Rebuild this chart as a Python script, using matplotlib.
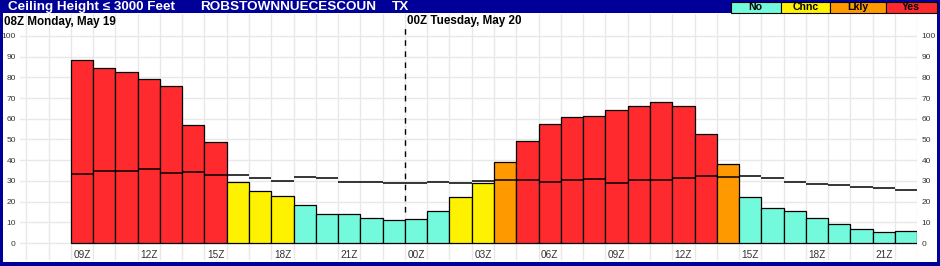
import matplotlib
matplotlib.use("Agg")
import matplotlib.pyplot as plt
from matplotlib.patches import Rectangle

plt.rcParams['font.family'] = ['Liberation Sans', 'DejaVu Sans']

# hourly forecast, 09Z May 19 .. 22Z May 20
hours = [9, 10, 11, 12, 13, 14, 15, 16, 17, 18, 19, 20, 21, 22, 23,
         0, 1, 2, 3, 4, 5, 6, 7, 8, 9, 10, 11, 12, 13, 14, 15, 16, 17, 18, 19, 20, 21, 22]
prob = [88.3, 84.4, 82.5, 79.1, 75.7, 56.9, 48.7, 29.4, 25.1, 22.7, 18.3, 14.0, 14.0, 12.0, 11.1,
        11.6, 15.4, 22.2, 28.9, 39.1, 49.2, 57.4, 60.8, 61.2, 64.1, 66.1, 68.0, 66.1, 52.6, 38.1,
        22.2, 16.9, 15.4, 12.0, 9.2, 6.7, 5.3, 5.8]
clim = [33.3, 34.7, 34.7, 35.7, 33.8, 34.2, 32.8, 32.8, 31.3, 29.9, 32.0, 31.3, 29.4, 29.4, 28.9,
        28.9, 29.4, 28.9, 29.9, 30.4, 30.4, 29.4, 30.4, 30.9, 28.9, 30.4, 30.4, 31.3, 32.3, 32.0,
        32.3, 31.3, 29.4, 28.4, 28.0, 27.0, 26.5, 25.5]
cats = ['Yes'] * 7 + ['Chnc'] * 3 + ['No'] * 7 + ['Chnc'] * 2 + ['Lkly'] + ['Yes'] * 9 + ['Lkly'] + ['No'] * 8

cat_names = ['No', 'Chnc', 'Lkly', 'Yes']
cat_colors = {'No': '#73fadc', 'Chnc': '#fff200', 'Lkly': '#ff9900', 'Yes': '#ff2a2d'}
navy = '#000099'

W, H = 940, 266
fig = plt.figure(figsize=(W / 100, H / 100), dpi=100, facecolor=navy)

def fx(px):
    return px / W

def fy(py):
    return 1 - py / H

# white panel inside the blue frame
fig.patches.append(Rectangle((fx(3), fy(262)), fx(934), 249 / H, transform=fig.transFigure,
                             facecolor='white', edgecolor='none', zorder=-10))

ax = fig.add_axes([fx(20), fy(260), fx(917.3 - 20), (260 - 14) / H])
ax.set_facecolor('none')
n = len(prob)
x = list(range(n))
ax.bar(x, prob, width=1, align='edge', color=[cat_colors[c] for c in cats],
       edgecolor='black', linewidth=0.9, zorder=3)
ax.hlines(clim, x, [i + 1 for i in x], colors='black', linewidth=1.1, zorder=4)

ax.set_xlim(-2.28, n)
ax.set_ylim(-8.2, 110.6)
ax.set_yticks(range(0, 101, 10))
ax.set_xticks(range(-2, n + 1))
ax.set_xticklabels([])
ax.grid(True, color='#e8e8e8', linewidth=1, zorder=0)
ax.tick_params(length=0, labelsize=6, labelcolor='#333333', labelright=True, pad=3)
for s in ax.spines.values():
    s.set_visible(False)

for i, h in enumerate(hours):
    if h % 3 == 0:
        ax.text(i + 0.5, -5.6, '%02dZ' % h, ha='center', va='center', fontsize=7.2, color='#333333')

# day boundary
ax.vlines(15, 15, 106, colors='black', linewidth=1, linestyles=(0, (4, 4)), zorder=5)
ax.text(15.1, 107.2, '00Z Tuesday, May 20', fontsize=8.4, fontweight='bold', va='center', ha='left')
fig.text(fx(4), fy(21.5), '08Z Monday, May 19', fontsize=8.4, fontweight='bold', va='center', ha='left')

# title bar
ty = fy(6.8)
fig.text(fx(8), ty, 'Ceiling Height ≤ 3000 Feet', color='white', fontsize=9.7, fontweight='bold', va='center')
fig.text(fx(200), ty, 'ROBSTOWNNUECESCOUN', color='white', fontsize=9.7, fontweight='bold', va='center')
fig.text(fx(392), ty, 'TX', color='white', fontsize=9.7, fontweight='bold', va='center')

edges = [730.5, 780.5, 830, 885.5, 936.5]
for k, name in enumerate(cat_names):
    x0, x1 = edges[k], edges[k + 1]
    fig.patches.append(Rectangle((fx(x0), fy(13)), fx(x1 - x0), 11 / H, transform=fig.transFigure,
                                 facecolor=cat_colors[name], edgecolor='black', linewidth=0.8, zorder=2))
    fig.text(fx((x0 + x1) / 2), fy(7.5), name, fontsize=7.6, fontweight='bold', ha='center', va='center', zorder=3)

fig.savefig('out.png', dpi=100, facecolor=navy)
